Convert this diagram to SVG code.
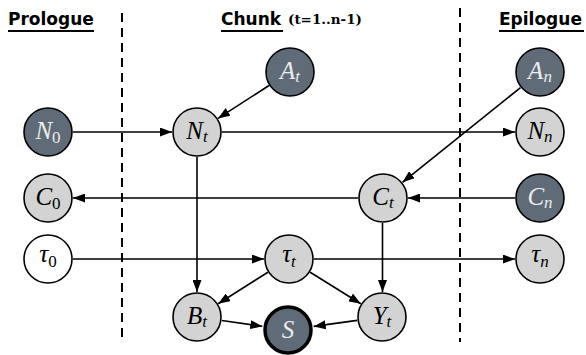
<svg xmlns="http://www.w3.org/2000/svg" width="586" height="355" viewBox="0 0 586 355">
<style>
.title{font-family:"DejaVu Sans",sans-serif;font-weight:bold;font-size:17px;fill:#000}
.sub{font-family:"DejaVu Serif",serif;font-weight:bold;font-size:13.5px;fill:#000}
.ul{stroke:#000;stroke-width:2}
.dash{stroke:#000;stroke-width:2;stroke-dasharray:9 6;fill:none}
.n circle{stroke:#000;stroke-width:1.6}
.light{fill:#d3d3d3}
.dark{fill:#5f6b77}
.white{fill:#fff}
.e line{stroke:#000;stroke-width:1.6;marker-end:url(#ah)}
</style>
<defs>
<marker id="ah" markerUnits="userSpaceOnUse" markerWidth="12" markerHeight="9" refX="12" refY="4.5" orient="auto">
<path d="M0,0 L12,4.5 L0,9 z" fill="#000"/>
</marker>
</defs>
<rect width="586" height="355" fill="#fff"/>
<g id="titles">
<text class="title" x="8" y="25">Prologue</text>
<line class="ul" x1="8" y1="31" x2="94" y2="31"/>
<text class="title" x="221" y="25">Chunk</text>
<line class="ul" x1="221" y1="31" x2="283" y2="31"/>
<text class="sub" x="288" y="24">(t=1..n-1)</text>
<text class="title" x="499" y="25">Epilogue</text>
<line class="ul" x1="499" y1="31" x2="584" y2="31"/>
</g>
<g id="dividers">
<line class="dash" x1="122" y1="13" x2="122" y2="340"/>
<line class="dash" x1="460" y1="8" x2="460" y2="342"/>
</g>
<g id="connectors" class="e">
<line x1="269" y1="85.5" x2="218" y2="118.4"/>
<line x1="73" y1="132" x2="172" y2="132"/>
<line x1="222" y1="132" x2="515" y2="132"/>
<line x1="520.5" y1="87.6" x2="402.5" y2="182.3"/>
<line x1="358" y1="198" x2="73" y2="198"/>
<line x1="515" y1="198" x2="408" y2="198"/>
<line x1="197" y1="157" x2="197" y2="292"/>
<line x1="382.5" y1="223" x2="382.5" y2="292"/>
<line x1="73" y1="259" x2="264" y2="259"/>
<line x1="314" y1="259" x2="515" y2="259"/>
<line x1="267.9" y1="272.3" x2="218.1" y2="303.7"/>
<line x1="310.2" y1="272.2" x2="360.8" y2="303.8"/>
<line x1="221.8" y1="320.5" x2="262.3" y2="326.3"/>
<line x1="357.2" y1="320.4" x2="313.7" y2="326.4"/>
</g>
<g font-family="'Liberation Serif', serif" font-style="italic" font-size="25" text-anchor="middle">
<g id="A_t" class="n"><circle cx="290" cy="72" r="24" class="dark"/><text fill="#ececec" x="290" y="79">A<tspan font-size="17" dy="3">t</tspan></text></g>
<g id="A_n" class="n"><circle cx="540" cy="72" r="24" class="dark"/><text fill="#ececec" x="540" y="79">A<tspan font-size="17" dy="3">n</tspan></text></g>
<g id="N_0" class="n"><circle cx="48" cy="132" r="24" class="dark"/><text fill="#ececec" x="48" y="139">N<tspan font-size="17" font-style="normal" dy="4">0</tspan></text></g>
<g id="N_t" class="n"><circle cx="197" cy="132" r="24" class="light"/><text fill="#000" x="197" y="139">N<tspan font-size="17" dy="3">t</tspan></text></g>
<g id="N_n" class="n"><circle cx="540" cy="132" r="24" class="light"/><text fill="#000" x="540" y="139">N<tspan font-size="17" dy="3">n</tspan></text></g>
<g id="C_0" class="n"><circle cx="48" cy="198" r="24" class="light"/><text fill="#000" x="48" y="205">C<tspan font-size="17" font-style="normal" dy="4">0</tspan></text></g>
<g id="C_t" class="n"><circle cx="383" cy="198" r="24" class="light"/><text fill="#000" x="383" y="205">C<tspan font-size="17" dy="3">t</tspan></text></g>
<g id="C_n" class="n"><circle cx="540" cy="198" r="24" class="dark"/><text fill="#ececec" x="540" y="205">C<tspan font-size="17" dy="3">n</tspan></text></g>
<g id="tau_0" class="n"><circle cx="48" cy="259" r="24" class="white"/><text fill="#000" x="48" y="262">τ<tspan font-size="17" font-style="normal" dy="5">0</tspan></text></g>
<g id="tau_t" class="n"><circle cx="289" cy="259" r="24" class="light"/><text fill="#000" x="289" y="262">τ<tspan font-size="17" dy="5">t</tspan></text></g>
<g id="tau_n" class="n"><circle cx="540" cy="259" r="24" class="light"/><text fill="#000" x="540" y="262">τ<tspan font-size="17" dy="5">n</tspan></text></g>
<g id="B_t" class="n"><circle cx="197" cy="317" r="24" class="light"/><text fill="#000" x="197" y="324">B<tspan font-size="17" dy="3">t</tspan></text></g>
<g id="Y_t" class="n"><circle cx="382" cy="317" r="24" class="light"/><text fill="#000" x="382" y="324">Y<tspan font-size="17" dy="3">t</tspan></text></g>
<g id="S" class="n"><circle cx="288" cy="330" r="23" class="dark" style="stroke-width:3.5"/><text fill="#ececec" x="288" y="338">S</text></g>
</g>
</svg>
